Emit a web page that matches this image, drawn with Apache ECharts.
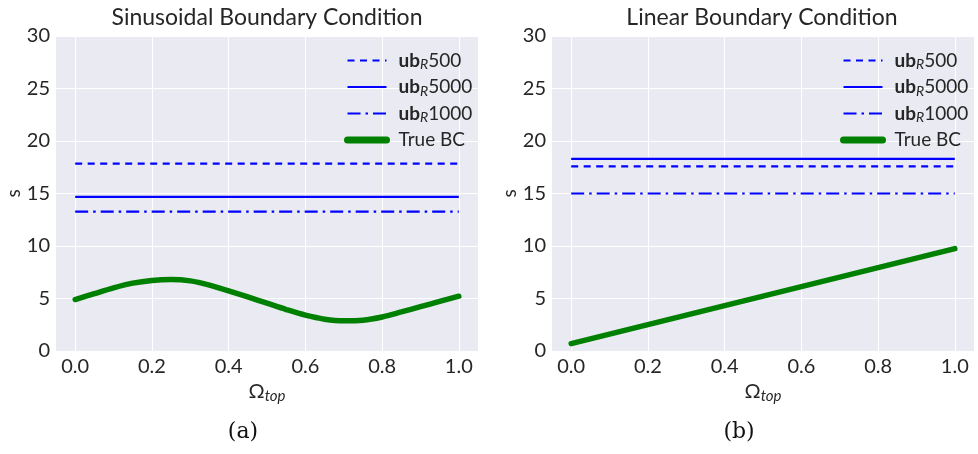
<!DOCTYPE html>
<html>
<head>
<meta charset="utf-8">
<script src="https://cdn.jsdelivr.net/npm/echarts@6/dist/echarts.min.js"></script>
<style>
  html, body { margin: 0; background: #fff; }
  #chart { width: 978px; height: 454px; }
</style>
</head>
<body>
<div id="chart"></div>
<script>
// values
const xTicks = [0, 0.2, 0.4, 0.6, 0.8, 1.0]
const seriesNames = ['ub500', 'ub5000', 'ub1000', 'True BC']
const lineKinds = ['dashed', 'solid', 'dashdot']

const sinOmega = [0, 0.05, 0.1, 0.15, 0.2, 0.25, 0.3, 0.35, 0.4, 0.45, 0.5,
  0.55, 0.6, 0.65, 0.7, 0.75, 0.8, 0.85, 0.9, 0.95, 1.0]
const sinTrue = [4.9, 5.46, 6.01, 6.46, 6.72, 6.81, 6.68, 6.28, 5.73, 5.15, 4.55,
  3.95, 3.41, 3.03, 2.87, 2.93, 3.24, 3.72, 4.22, 4.72, 5.22]
const sinLevels = [17.85, 14.67, 13.27]

const linOmega = [0, 1]
const linTrue = [0.7, 9.75]
const linLevels = [17.59, 18.29, 15.0]

const FONT = 'Lato'
const TEXT = '#262626'
const BLUE = '#0000ff'
const GREEN = '#008000'

const dashes = {
  dashed: [7, 5.5],
  solid: 'solid',
  dashdot: [13, 5, 2.5, 5],
}

const chart = echarts.init(document.getElementById('chart'))

const legendLabel = (name) =>
  name === 'True BC' ? name : '{b|ub}{sub|R}' + name.slice(2)

const panel = (i, left, right) => ({
  grid: {
    left, right, top: 36, bottom: 103,
    show: true, backgroundColor: '#eaeaf2', borderWidth: 0,
  },
  xAxis: {
    gridIndex: i, type: 'value', min: -0.05, max: 1.05,
    name: '{o|Ω}{sub|top}', nameLocation: 'middle', nameGap: 22,
    nameTextStyle: {
      color: TEXT, fontFamily: FONT,
      rich: {
        o: { fontSize: 20, fontFamily: FONT, color: TEXT },
        sub: { fontSize: 15, fontStyle: 'italic', fontFamily: FONT, color: TEXT, padding: [9, 0, 0, 0] },
      },
    },
    axisLine: { show: false },
    axisTick: { show: false, customValues: xTicks },
    axisLabel: {
      customValues: xTicks, margin: 6, fontSize: 20, fontFamily: FONT, color: TEXT,
      formatter: (v) => v.toFixed(1),
    },
    splitLine: { show: true, lineStyle: { color: '#fff', width: 1 } },
  },
  yAxis: {
    gridIndex: i, type: 'value', min: 0, max: 30, interval: 5,
    name: 's', nameLocation: 'middle', nameGap: 30,
    nameTextStyle: { fontSize: 19, fontFamily: FONT, color: TEXT },
    axisLine: { show: false },
    axisTick: { show: false },
    axisLabel: { margin: 6, fontSize: 20, fontFamily: FONT, color: TEXT },
    splitLine: { show: true, lineStyle: { color: '#fff', width: 1 } },
  },
})

const p1 = panel(0, 56, 500)
const p2 = panel(1, 552, 4)

const buildSeries = (i, omega, trueVals, levels) => [
  ...levels.map((lv, k) => ({
    name: seriesNames[k],
    type: 'line',
    xAxisIndex: i, yAxisIndex: i,
    data: [[0, lv], [1, lv]],
    symbol: 'none',
    lineStyle: { color: BLUE, width: 2.2, type: dashes[lineKinds[k]] },
    itemStyle: { color: BLUE },
  })),
  {
    name: seriesNames[3],
    type: 'line',
    xAxisIndex: i, yAxisIndex: i,
    data: omega.map((x, j) => [x, trueVals[j]]),
    smooth: 0.3,
    symbol: 'none',
    lineStyle: { color: GREEN, width: 5.5, cap: 'round' },
    itemStyle: { color: GREEN },
  },
]

const legendFor = (left) => ({
  data: seriesNames.map((name) =>
    name === 'True BC' ? { name, lineStyle: { width: 7, cap: 'round' } } : { name }),
  orient: 'vertical',
  left, top: 46,
  itemWidth: 39, itemHeight: 14, itemGap: 6,
  formatter: legendLabel,
  itemStyle: { color: 'transparent', borderWidth: 0 },
  textStyle: {
    fontSize: 19, fontFamily: FONT, color: TEXT, padding: [0, 0, 0, 7],
    rich: {
      b: { fontSize: 19, fontWeight: 'bold', fontFamily: FONT, color: TEXT },
      sub: { fontSize: 14, fontStyle: 'italic', fontFamily: FONT, color: TEXT, padding: [8, 0, 0, 0] },
    },
  },
  selectedMode: false,
})

const titleStyle = { fontSize: 23, fontWeight: 'normal', fontFamily: FONT, color: TEXT }
const capStyle = { fontSize: 22, fontWeight: 'normal', fontFamily: 'DejaVu Serif', color: '#111' }

chart.setOption({
  animation: false,
  title: [
    { text: 'Sinusoidal Boundary Condition', left: 262, top: 1, textAlign: 'center', textStyle: titleStyle },
    { text: 'Linear Boundary Condition', left: 757, top: 1, textAlign: 'center', textStyle: titleStyle },
    { text: '(a)', left: 238, top: 416, textAlign: 'center', textStyle: capStyle },
    { text: '(b)', left: 734, top: 416, textAlign: 'center', textStyle: capStyle },
  ],
  legend: [legendFor(339), legendFor(835)],
  grid: [p1.grid, p2.grid],
  xAxis: [p1.xAxis, p2.xAxis],
  yAxis: [p1.yAxis, p2.yAxis],
  series: [
    ...buildSeries(0, sinOmega, sinTrue, sinLevels),
    ...buildSeries(1, linOmega, linTrue, linLevels),
  ],
})
</script>
</body>
</html>
